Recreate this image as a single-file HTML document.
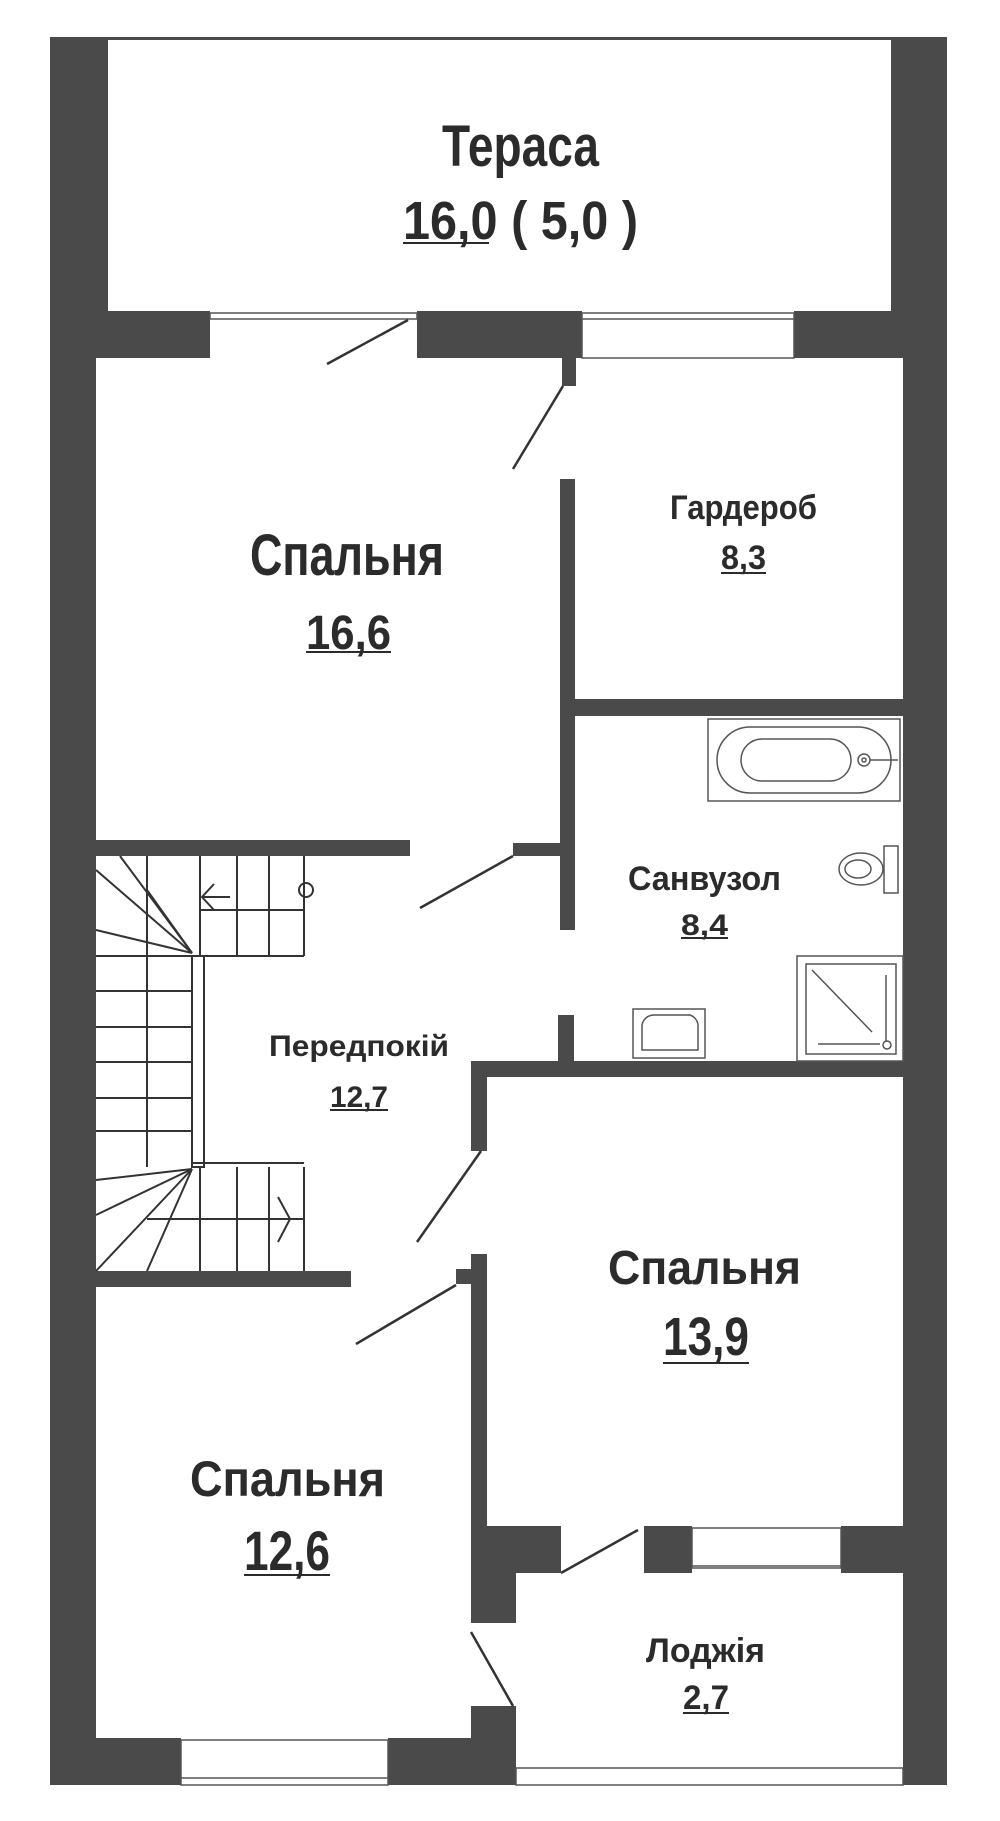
<!DOCTYPE html>
<html><head><meta charset="utf-8"><style>
html,body{margin:0;padding:0;background:#fff}
svg{display:block}
text{font-family:"Liberation Sans",sans-serif;font-weight:bold;fill:#2b2b2b}
</style></head><body>
<svg width="1000" height="1821" viewBox="0 0 1000 1821" xmlns="http://www.w3.org/2000/svg">
<g fill="#4a4a4a">
<rect x="50" y="37" width="58" height="280"/>
<rect x="891" y="37" width="56" height="280"/>
<rect x="50" y="311" width="160" height="47"/>
<rect x="417" y="311" width="165" height="47"/>
<rect x="794" y="311" width="153" height="47"/>
<rect x="562" y="358" width="14" height="28"/>
<rect x="50" y="311" width="46" height="1474"/>
<rect x="903" y="311" width="44" height="1474"/>
<rect x="560" y="479" width="15" height="451"/>
<rect x="560" y="699" width="343" height="17"/>
<rect x="96" y="840" width="314" height="16"/>
<rect x="513" y="843" width="49" height="13"/>
<rect x="558" y="1015" width="16" height="50"/>
<rect x="471" y="1061" width="432" height="16"/>
<rect x="471" y="1061" width="16" height="90"/>
<rect x="96" y="1271" width="255" height="16"/>
<rect x="471" y="1254" width="16" height="280"/>
<rect x="456" y="1269" width="20" height="15"/>
<rect x="471" y="1526" width="90" height="47"/>
<rect x="471" y="1526" width="45" height="97"/>
<rect x="644" y="1526" width="48" height="47"/>
<rect x="841" y="1526" width="62" height="47"/>
<rect x="50" y="1738" width="131" height="47"/>
<rect x="388" y="1738" width="128" height="47"/>
<rect x="471" y="1706" width="45" height="40"/>
</g>
<rect x="108" y="37" width="783" height="3" fill="#4a4a4a"/>
<g fill="none" stroke="#555" stroke-width="1.5">
<rect x="210" y="313" width="207" height="6"/>
<rect x="582" y="313" width="212" height="45"/>
<line x1="582" y1="319" x2="794" y2="319"/>
<rect x="692" y="1528" width="149" height="40"/>
<line x1="692" y1="1566" x2="841" y2="1566"/>
<rect x="181" y="1740" width="207" height="45"/>
<line x1="181" y1="1778" x2="388" y2="1778"/>
<rect x="516" y="1768" width="387" height="17"/>
</g>
<g stroke="#333" stroke-width="2.5" fill="none">
<line x1="327" y1="364" x2="408" y2="320"/>
<line x1="563" y1="386" x2="513" y2="469"/>
<line x1="420" y1="908" x2="513" y2="856"/>
<line x1="481" y1="1151" x2="417" y2="1242"/>
<line x1="456" y1="1285" x2="356" y2="1344"/>
<line x1="561" y1="1573" x2="638" y2="1530"/>
<line x1="471" y1="1632" x2="513" y2="1706"/>
</g>
<g stroke="#333" stroke-width="2" fill="none">
<line x1="147" y1="856" x2="147" y2="956"/>
<line x1="200" y1="856" x2="200" y2="956"/>
<line x1="237" y1="856" x2="237" y2="956"/>
<line x1="269" y1="856" x2="269" y2="956"/>
<line x1="304" y1="856" x2="304" y2="956"/>
<line x1="192" y1="956" x2="304" y2="956"/>
<rect x="192" y="956" width="12" height="211"/>
<line x1="192" y1="1163" x2="304" y2="1163"/>
<line x1="96" y1="956" x2="192" y2="956"/>
<line x1="96" y1="991" x2="192" y2="991"/>
<line x1="96" y1="1027" x2="192" y2="1027"/>
<line x1="96" y1="1062" x2="192" y2="1062"/>
<line x1="96" y1="1098" x2="192" y2="1098"/>
<line x1="96" y1="1131" x2="192" y2="1131"/>
<line x1="147" y1="956" x2="147" y2="1167"/>
<line x1="192" y1="953" x2="96" y2="870"/>
<line x1="192" y1="953" x2="120" y2="856"/>
<line x1="192" y1="953" x2="147" y2="890"/>
<line x1="192" y1="953" x2="96" y2="930"/>
<line x1="192" y1="1169" x2="96" y2="1215"/>
<line x1="192" y1="1169" x2="96" y2="1271"/>
<line x1="192" y1="1169" x2="147" y2="1271"/>
<line x1="192" y1="1169" x2="96" y2="1180"/>
<line x1="200" y1="1167" x2="200" y2="1271"/>
<line x1="237" y1="1167" x2="237" y2="1271"/>
<line x1="269" y1="1167" x2="269" y2="1271"/>
<line x1="304" y1="1167" x2="304" y2="1271"/>
<line x1="147" y1="1219" x2="304" y2="1219"/>
<line x1="200" y1="910" x2="304" y2="910"/>
<polyline points="214,884 202,897 214,910"/>
<line x1="202" y1="897" x2="230" y2="897"/>
<circle cx="306" cy="890" r="7"/>
<polyline points="278,1197 290,1219 278,1242"/>
</g>
<g stroke="#555" stroke-width="1.5" fill="none">
<rect x="708" y="719" width="192" height="82"/>
<rect x="717" y="727" width="174" height="66" rx="33"/>
<rect x="741" y="739" width="110" height="42" rx="21"/>
<circle cx="864" cy="760" r="6"/>
<circle cx="864" cy="760" r="2"/>
<line x1="870" y1="760" x2="898" y2="760"/>
<rect x="884" y="846" width="14" height="47"/>
<ellipse cx="861" cy="869" rx="22" ry="16"/>
<ellipse cx="858" cy="869" rx="13" ry="9"/>
<rect x="633" y="1009" width="72" height="49"/>
<path d="M642 1050 V1025 a12 12 0 0 1 12-10 h36 a12 12 0 0 1 8 10 v25 Z"/>
<rect x="797" y="956" width="106" height="105"/>
<rect x="806" y="964" width="90" height="90"/>
<line x1="812" y1="970" x2="872" y2="1032"/>
<line x1="886" y1="975" x2="886" y2="1042"/>
<line x1="818" y1="1044" x2="880" y2="1044"/>
<circle cx="887" cy="1045" r="4"/>
</g>
<g>
<text x="442" y="166" font-size="58" textLength="157" lengthAdjust="spacingAndGlyphs">Тераса</text>
<text x="403" y="239" font-size="54" textLength="235" lengthAdjust="spacingAndGlyphs">16,0 ( 5,0 )</text>
<text x="250" y="575" font-size="58" textLength="194" lengthAdjust="spacingAndGlyphs">Спальня</text>
<text x="306" y="649" font-size="48" textLength="85" lengthAdjust="spacingAndGlyphs">16,6</text>
<text x="670" y="519" font-size="34" textLength="147" lengthAdjust="spacingAndGlyphs">Гардероб</text>
<text x="721" y="569" font-size="34" textLength="45" lengthAdjust="spacingAndGlyphs">8,3</text>
<text x="628" y="890" font-size="34" textLength="153" lengthAdjust="spacingAndGlyphs">Санвузол</text>
<text x="681" y="935" font-size="30" textLength="47" lengthAdjust="spacingAndGlyphs">8,4</text>
<text x="269" y="1056" font-size="30" textLength="180" lengthAdjust="spacingAndGlyphs">Передпокій</text>
<text x="330" y="1107" font-size="30" textLength="58" lengthAdjust="spacingAndGlyphs">12,7</text>
<text x="608" y="1284" font-size="48" textLength="193" lengthAdjust="spacingAndGlyphs">Спальня</text>
<text x="663" y="1355" font-size="54" textLength="86" lengthAdjust="spacingAndGlyphs">13,9</text>
<text x="190" y="1496" font-size="50" textLength="195" lengthAdjust="spacingAndGlyphs">Спальня</text>
<text x="244" y="1570" font-size="56" textLength="86" lengthAdjust="spacingAndGlyphs">12,6</text>
<text x="646" y="1662" font-size="34" textLength="119" lengthAdjust="spacingAndGlyphs">Лоджія</text>
<text x="683" y="1709" font-size="34" textLength="46" lengthAdjust="spacingAndGlyphs">2,7</text>
</g>
<g fill="#2b2b2b">
<rect x="403" y="242" width="86" height="2"/>
<rect x="306" y="651" width="85" height="2"/>
<rect x="721" y="572" width="45" height="2"/>
<rect x="681" y="937" width="47" height="2"/>
<rect x="330" y="1109" width="58" height="2"/>
<rect x="663" y="1362" width="86" height="2"/>
<rect x="244" y="1574" width="86" height="2"/>
<rect x="683" y="1712" width="46" height="2"/>
</g>
</svg>
</body></html>
